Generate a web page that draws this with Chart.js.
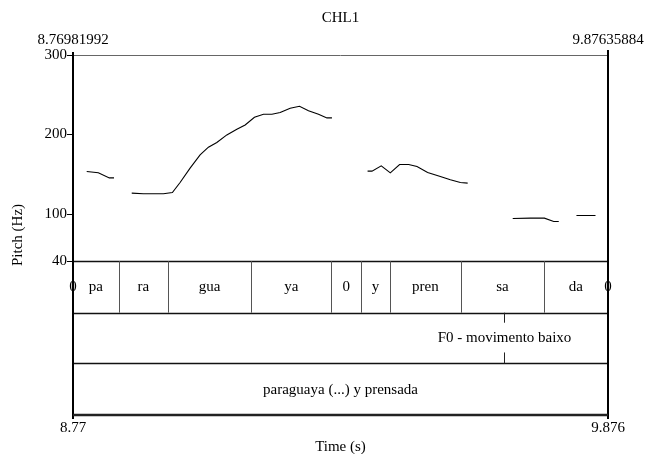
<!DOCTYPE html>
<html>
<head>
<meta charset="utf-8">
<script src="https://cdn.jsdelivr.net/npm/chart.js@4"></script>
<style>
  html, body { margin: 0; padding: 0; background: #fff; }
  #wrap { width: 646px; height: 454px; }
</style>
</head>
<body>
<div id="wrap"><canvas id="chart" width="646" height="454"></canvas></div>
<script>
// Data
const chartTitle = 'CHL1';
const timeStart = 8.76981992;
const timeEnd = 9.87635884;
const timeEdgeLabels = ['8.76981992', '9.87635884'];
const timeAxisLabels = ['8.77', '9.876'];
const pitchTicks = [300, 200, 100, 40];

// pitch contour (null = unvoiced gap)
const pitchTime = [
  8.7982, 8.8222, 8.8450, 8.8547, null,
  8.8913, 8.9154, 8.9568, 8.9754, 8.9913, 9.0120, 9.0327, 9.0499, 9.0673, 9.0880,
  9.1087, 9.1259, 9.1451, 9.1638, 9.1812, 9.1983, 9.2190, 9.2383, 9.2569, 9.2776,
  9.2950, 9.3054, null,
  9.3791, 9.3882, 9.4074, 9.4261, 9.4453, 9.4640, 9.4813, 9.5033, 9.5296, 9.5503,
  9.5710, 9.5861, null,
  9.6793, 9.7159, 9.7449, 9.7641, 9.7745, null,
  9.8111, 9.8505
];
const pitchHz = [
  153, 151.5, 145, 145, null,
  125.8, 125, 125, 126.6, 139.2, 157.3, 174, 183.7, 189.6, 199.2,
  206.4, 211.8, 221.5, 225.3, 225.3, 227.4, 232.9, 235.4, 229.8, 225.3,
  220.7, 220.7, null,
  153.5, 153.5, 160.2, 151.4, 161.9, 161.9, 159.3, 151.8, 146.7, 142.6,
  139.2, 138.4, null,
  93.8, 94.3, 94.3, 90.1, 90.1, null,
  97.6, 97.6
];

// tier 1: syllables
const syllableBounds = [8.8644, 8.9659, 9.1389, 9.3039, 9.3660, 9.4246, 9.5724, 9.7434];
const syllableLabels = ['pa', 'ra', 'gua', 'ya', '0', 'y', 'pren', 'sa', 'da'];
const syllableEdgeLabels = ['0', '0'];
// tier 2: point tier
const pointTimes = [9.6606];
const pointLabels = ['F0 - movimento baixo'];
// tier 3: phrase
const phraseLabels = ['paraguaya (...) y prensada'];
// tier edges, in pitch-axis units below the 40 Hz floor
const tierEdges = [40, -25, -89, -154];

const FONT = '15px "Liberation Serif", "Times New Roman", serif';

const pitchData = pitchTime.map((t, i) => (t === null ? { x: NaN, y: null } : { x: t, y: pitchHz[i] }));

const praatPlugin = {
  id: 'praat',
  afterDatasetsDraw(chart) {
    const { ctx, chartArea: a, scales: { x, y } } = chart;
    ctx.save();
    ctx.font = FONT;
    ctx.fillStyle = '#000';

    // tier horizontal lines
    ctx.strokeStyle = '#111';
    ctx.lineWidth = 1.6;
    tierEdges.slice(0, 3).forEach(v => {
      const py = Math.round(y.getPixelForValue(v)) + 0.5;
      ctx.beginPath(); ctx.moveTo(a.left, py); ctx.lineTo(a.right, py); ctx.stroke();
    });

    // tier 1 boundaries and labels
    const t1Top = y.getPixelForValue(tierEdges[0]);
    const t1Bot = y.getPixelForValue(tierEdges[1]);
    ctx.strokeStyle = '#555';
    ctx.lineWidth = 1;
    syllableBounds.forEach(t => {
      const px = Math.round(x.getPixelForValue(t)) + 0.5;
      ctx.beginPath(); ctx.moveTo(px, t1Top); ctx.lineTo(px, t1Bot); ctx.stroke();
    });
    const edges = [timeStart, ...syllableBounds, timeEnd];
    ctx.textAlign = 'center';
    ctx.textBaseline = 'middle';
    const t1Mid = (t1Top + t1Bot) / 2;
    syllableLabels.forEach((s, i) => {
      const cx = (x.getPixelForValue(edges[i]) + x.getPixelForValue(edges[i + 1])) / 2;
      ctx.fillText(s, cx, t1Mid);
    });
    ctx.fillText(syllableEdgeLabels[0], x.getPixelForValue(timeStart), t1Mid);
    ctx.fillText(syllableEdgeLabels[1], x.getPixelForValue(timeEnd), t1Mid);

    // tier 2 point
    const t2Top = t1Bot;
    const t2Bot = y.getPixelForValue(tierEdges[2]);
    const t2Mid = (t2Top + t2Bot) / 2;
    ctx.strokeStyle = '#222';
    pointTimes.forEach((t, i) => {
      const px = Math.round(x.getPixelForValue(t)) + 0.5;
      ctx.beginPath();
      ctx.moveTo(px, t2Top); ctx.lineTo(px, t2Top + 10);
      ctx.moveTo(px, t2Bot - 11); ctx.lineTo(px, t2Bot);
      ctx.stroke();
      ctx.fillText(pointLabels[i], px, t2Mid);
    });

    // tier 3 phrase
    const t3Mid = (t2Bot + y.getPixelForValue(tierEdges[3])) / 2 + 1;
    ctx.fillText(phraseLabels[0], (a.left + a.right) / 2, t3Mid);

    // frame
    ctx.strokeStyle = '#666';
    ctx.lineWidth = 1;
    ctx.beginPath(); ctx.moveTo(a.left, a.top + 0.5); ctx.lineTo(a.right, a.top + 0.5); ctx.stroke();
    ctx.strokeStyle = '#000';
    ctx.lineWidth = 2;
    ctx.beginPath();
    ctx.moveTo(a.left, a.top - 3); ctx.lineTo(a.left, a.bottom + 4);
    ctx.moveTo(a.right, a.top - 5); ctx.lineTo(a.right, a.bottom + 4);
    ctx.stroke();
    ctx.strokeStyle = '#222';
    ctx.lineWidth = 2.5;
    ctx.beginPath(); ctx.moveTo(a.left, a.bottom); ctx.lineTo(a.right, a.bottom); ctx.stroke();

    // pitch ticks and labels
    ctx.strokeStyle = '#000';
    ctx.lineWidth = 1;
    ctx.textAlign = 'right';
    pitchTicks.forEach(v => {
      const py = Math.round(y.getPixelForValue(v)) + 0.5;
      ctx.beginPath(); ctx.moveTo(a.left - 6, py); ctx.lineTo(a.left, py); ctx.stroke();
      ctx.fillText(String(v), a.left - 6, py);
    });

    // time labels
    ctx.textAlign = 'center';
    ctx.fillText(timeEdgeLabels[0], x.getPixelForValue(timeStart), a.top - 15);
    ctx.fillText(timeEdgeLabels[1], x.getPixelForValue(timeEnd), a.top - 15);
    ctx.fillText(timeAxisLabels[0], x.getPixelForValue(timeStart), a.bottom + 13);
    ctx.fillText(timeAxisLabels[1], x.getPixelForValue(timeEnd), a.bottom + 13);
    ctx.fillText('Time (s)', (a.left + a.right) / 2, a.bottom + 32);
    ctx.fillText(chartTitle, (a.left + a.right) / 2, 18);

    // y title
    ctx.translate(18, (a.top + a.bottom) / 2);
    ctx.rotate(-Math.PI / 2);
    ctx.fillText('Pitch (Hz)', 0, 0);
    ctx.restore();
  }
};

new Chart(document.getElementById('chart'), {
  type: 'line',
  data: {
    datasets: [{
      data: pitchData,
      borderColor: '#000',
      borderWidth: 1.1,
      pointRadius: 0,
      spanGaps: false,
      tension: 0
    }]
  },
  options: {
    responsive: false,
    animation: false,
    events: [],
    layout: { padding: { left: 73, right: 38, top: 55, bottom: 39 } },
    plugins: { legend: { display: false }, tooltip: { enabled: false }, title: { display: false } },
    scales: {
      x: { type: 'linear', min: timeStart, max: timeEnd, display: false },
      y: { type: 'linear', min: tierEdges[3], max: 300, display: false }
    }
  },
  plugins: [praatPlugin]
});
</script>
</body>
</html>
